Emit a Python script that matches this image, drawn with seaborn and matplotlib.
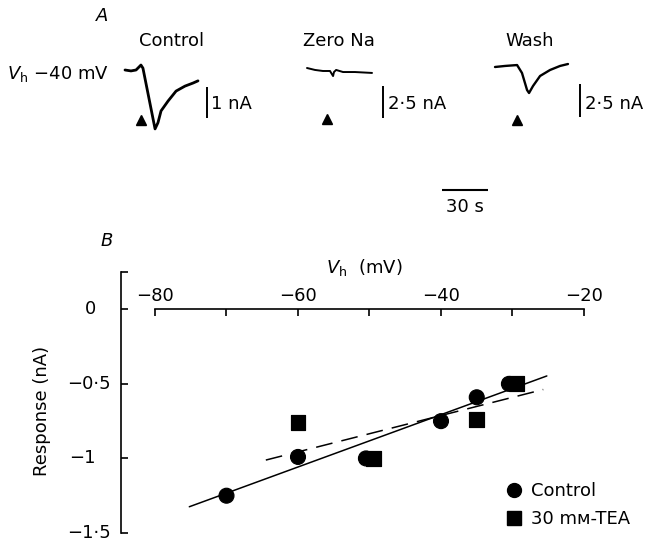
import numpy as np
import pandas as pd
import matplotlib
matplotlib.use("Agg")
import matplotlib.pyplot as plt
import seaborn as sns
from matplotlib.lines import Line2D
from matplotlib.transforms import blended_transform_factory

# ---------------- data ----------------
# Panel B: holding potential (mV) vs response (nA)
control_vh = [-70, -60, -50.5, -40, -35, -30.5]
control_resp = [-1.25, -0.99, -1.0, -0.75, -0.59, -0.5]
tea_vh = [-60, -49.5, -35, -29.5]
tea_resp = [-0.76, -1.0, -0.74, -0.5]
# regression lines (end points)
fit_control_x = [-75.2, -25.2]
fit_control_y = [-1.324, -0.447]
fit_tea_x = [-64.5, -25.7]
fit_tea_y = [-1.011, -0.538]
xticks = [-80, -70, -60, -50, -40, -30, -20]
xticklabels = ["\u221280", "", "\u221260", "", "\u221240", "", "\u221220"]
yticks = [0, -0.5, -1, -1.5]
yticklabels = ["0", "\u22120\u00b75", "\u22121", "\u22121\u00b75"]

# Panel A: current traces, time (s) and current (nA)
ctrl_t = [0, 3.9, 7.2, 10.4, 11.7, 19.6, 21.5, 23.5, 28.1, 33.3, 39.1, 44.4, 47.6]
ctrl_i = [0, -0.03, 0, 0.16, 0.06, -1.90, -1.70, -1.32, -1.0, -0.68, -0.52, -0.42, -0.35]
zero_t = [0, 5.2, 10.4, 15.0, 17.0, 17.6, 19.0, 23.5, 31.3, 42.4]
zero_i = [0, -0.15, -0.23, -0.23, -0.62, -0.31, -0.15, -0.31, -0.31, -0.38]
wash_t = [0, 6.5, 14.4, 17.6, 20.9, 22.2, 24.8, 29.4, 35.9, 42.4, 47.6]
wash_i = [0, 0.08, 0.15, -0.46, -1.77, -2.0, -1.46, -0.69, -0.23, 0.08, 0.23]
stim_t = [10.4, 13.0, 14.4]
bar_nA = [1.0, 2.5, 2.5]
bar_labels = ["1 nA", "2\u00b75 nA", "2\u00b75 nA"]
time_bar_s = 30
trace_titles = ["Control", "Zero Na", "Wash"]

# ---------------- figure ----------------
sns.set_style("ticks")
plt.rcParams["font.family"] = ["DejaVu Sans"]
plt.rcParams["mathtext.fontset"] = "dejavusans"
for key in ["text.color", "axes.labelcolor", "xtick.color", "ytick.color",
            "axes.edgecolor"]:
    plt.rcParams[key] = "black"

W, H = 650, 542
fig = plt.figure(figsize=(W / 100, H / 100), dpi=100)


def fx(px):
    return px / W


def fy(py):
    return 1 - py / H


def px_axes(x0, y0, x1, y1):
    return fig.add_axes([x0 / W, 1 - y1 / H, (x1 - x0) / W, (y1 - y0) / H])


FS = 13

# ---------------- Panel A ----------------
pps = 46 / 30.0  # pixels per second
traces = [
    dict(t=ctrl_t, i=ctrl_i, ox=125, oy=70, ppn=31.0, lw=2.0,
         bar_x=207, bar_top=87, text_x=211),
    dict(t=zero_t, i=zero_i, ox=307, oy=68, ppn=13.0, lw=1.4,
         bar_x=383, bar_top=86, text_x=388),
    dict(t=wash_t, i=wash_i, ox=495, oy=67, ppn=13.0, lw=1.7,
         bar_x=580, bar_top=84, text_x=585),
]
for k, tr in enumerate(traces):
    x0, y0, x1, y1 = tr["ox"] - 20, tr["oy"] - 25, tr["ox"] + 100, tr["oy"] + 70
    a = px_axes(x0, y0, x1, y1)
    a.set_xlim((x0 - tr["ox"]) / pps, (x1 - tr["ox"]) / pps)
    a.set_ylim(-(y1 - tr["oy"]) / tr["ppn"], (tr["oy"] - y0) / tr["ppn"])
    a.set_axis_off()
    a.patch.set_alpha(0)
    sns.lineplot(x=tr["t"], y=tr["i"], ax=a, color="black", lw=tr["lw"],
                 sort=False, estimator=None)
    # stimulus marker
    tri_i = -(119.5 - tr["oy"]) / tr["ppn"]
    a.plot([stim_t[k]], [tri_i], marker="^", ms=7.5, color="black", ls="none")
    # current scale bar
    bt = (tr["bar_x"] - tr["ox"]) / pps
    top_i = -(tr["bar_top"] - tr["oy"]) / tr["ppn"]
    a.plot([bt, bt], [top_i, top_i - bar_nA[k]], color="black", lw=1.4,
           solid_capstyle="butt")
    fig.text(fx(tr["text_x"]), fy(104), bar_labels[k], fontsize=FS,
             ha="left", va="center")

# titles
for name, cx in zip(trace_titles, [172, 339, 530]):
    fig.text(fx(cx), fy(41), name, fontsize=FS, ha="center", va="center")
fig.text(fx(7), fy(74), r"$V_{\rm h}$ $-$40 mV", fontsize=FS, ha="left", va="center")
fig.text(fx(102), fy(16), "A", fontsize=FS, style="italic", ha="center", va="center")

# time scale bar
tb = px_axes(430, 180, 500, 200)
tb.set_xlim(0, 70 / pps)
tb.set_ylim(-1, 1)
tb.set_axis_off()
tb.plot([12 / pps, 12 / pps + time_bar_s], [0, 0], color="black", lw=1.5,
        solid_capstyle="butt")
fig.text(fx(465), fy(207), "30 s", fontsize=FS, ha="center", va="center")

# ---------------- Panel B ----------------
ax = px_axes(121, 272, 600, 533)
ax.patch.set_alpha(0)
px_per_mv = (584 - 155) / 60.0
ax.set_xlim(-80 - (155 - 121) / px_per_mv, -20 + (600 - 584) / px_per_mv)
ax.set_ylim(-1.5, 0.25)

df = pd.DataFrame({
    "Vh": control_vh + tea_vh,
    "resp": control_resp + tea_resp,
    "cond": ["Control"] * len(control_vh) + ["30 m\u043c-TEA"] * len(tea_vh),
})
sns.lineplot(x=fit_control_x, y=fit_control_y, ax=ax, color="black", lw=1.1)
sns.lineplot(x=fit_tea_x, y=fit_tea_y, ax=ax, color="black", lw=1.1,
             dashes=False, linestyle=(0, (11, 6)))
sns.scatterplot(data=df, x="Vh", y="resp", style="cond",
                markers={"Control": "o", "30 m\u043c-TEA": "s"},
                color="black", edgecolor="black", s=115, ax=ax, legend=False,
                zorder=3)

# spines
ax.spines["right"].set_visible(False)
ax.spines["bottom"].set_visible(False)
ax.spines["top"].set_position(("data", 0))
ax.spines["top"].set_bounds(-80, -20)
ax.spines["left"].set_bounds(-1.5, 0.25)
for s in ["top", "left"]:
    ax.spines[s].set_linewidth(1.2)
    ax.spines[s].set_color("black")
ax.xaxis.tick_top()
ax.set_xticks(xticks)
ax.set_xticklabels(xticklabels)
ax.tick_params(axis="x", direction="in", length=5, width=1.2, pad=3,
               labelsize=FS, colors="black")
ax.set_yticks([0.25] + yticks)
ax.set_yticklabels([])
ax.tick_params(axis="y", direction="in", length=5, width=1.2, colors="black")
ax.set_xlabel("")
ax.set_ylabel("")

ytr = blended_transform_factory(fig.transFigure, ax.transData)
for v, lab in zip(yticks, yticklabels):
    xr = 111 if "\u00b7" in lab else 96
    ax.text(fx(xr), v, lab, transform=ytr, ha="right", va="center",
            fontsize=FS, color="black")

fig.text(fx(364), fy(268), r"$V_{\rm h}$  (mV)", fontsize=FS, ha="center",
         va="center")
fig.text(fx(42), fy(411), "Response (nA)", fontsize=FS, rotation=90,
         ha="center", va="center")
fig.text(fx(107), fy(241), "B", fontsize=FS, style="italic", ha="center",
         va="center")

# legend
handles = [
    Line2D([], [], marker="o", color="black", ls="none", ms=10),
    Line2D([], [], marker="s", color="black", ls="none", ms=10),
]
leg = fig.legend(handles, ["Control", "30 m\u043c-TEA"], loc="center left",
                 bbox_to_anchor=(fx(505), fy(505)), frameon=False, fontsize=FS,
                 handlelength=1.0, handletextpad=0.45, borderpad=0,
                 borderaxespad=0, labelspacing=0.55)
for t in leg.get_texts():
    t.set_color("black")

fig.savefig("out.png", dpi=100)
